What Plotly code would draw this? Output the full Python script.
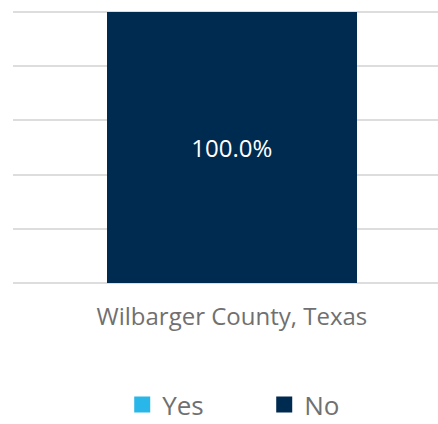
import plotly.graph_objects as go

categories = ["Wilbarger County, Texas"]
series_names = ["Yes", "No"]
yes_values = [0.0]
no_values = [100.0]
colors = {"Yes": "#29B6E8", "No": "#002B50"}
FONT = "Open Sans"

fig = go.Figure()
for name, vals in zip(series_names, [yes_values, no_values]):
    fig.add_trace(go.Bar(
        x=categories, y=vals, name=name, legendgroup=name, showlegend=False,
        marker=dict(color=colors[name], line=dict(width=0)),
        text=[f"{v:.1f}%" if v > 0 else "" for v in vals],
        textposition="inside", insidetextanchor="middle",
        textfont=dict(color="white", size=24, family=FONT),
        width=0.588, hoverinfo="skip",
    ))
    fig.add_trace(go.Scatter(
        x=[None], y=[None], mode="markers", name=name, legendgroup=name,
        marker=dict(symbol="square", size=17, color=colors[name]),
        showlegend=True, hoverinfo="skip",
    ))

fig.update_layout(
    width=438, height=424,
    margin=dict(l=13, r=0, t=11, b=140, autoexpand=False),
    barmode="stack",
    plot_bgcolor="white", paper_bgcolor="white",
    font=dict(family=FONT, color="#707070"),
    showlegend=True,
    legend=dict(orientation="h", x=0.257, xanchor="left", y=-0.528, yanchor="bottom",
                font=dict(size=26, color="#707070", family=FONT),
                entrywidth=97, itemsizing="trace", tracegroupgap=0),
    xaxis=dict(range=[-0.515, 0.485], showgrid=False, showline=False, zeroline=False,
               ticks="", tickfont=dict(size=24, color="#707070", family=FONT),
               ticklabelstandoff=16, fixedrange=True),
    yaxis=dict(range=[-0.5, 100.5], tickvals=[0, 20, 40, 60, 80, 100], showgrid=True,
               gridcolor="#DDDDDD", gridwidth=2,
               zeroline=False, showticklabels=False, ticks="", fixedrange=True),
)

fig.write_html("out.html")
